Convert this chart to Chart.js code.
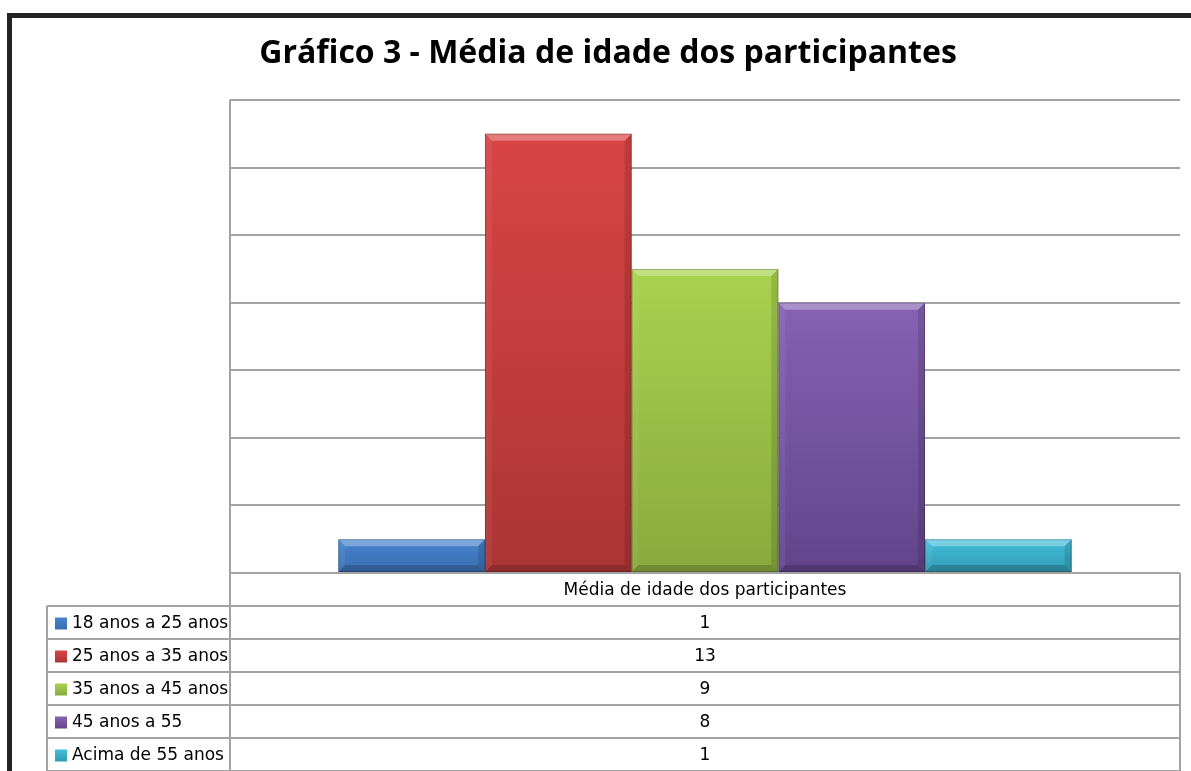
<!DOCTYPE html>
<html>
<head>
<meta charset="utf-8">
<script src="https://cdn.jsdelivr.net/npm/chart.js@4"></script>
<style>
  body { margin: 0; background: #fff; }
  #wrap { width: 1191px; height: 771px; }
</style>
</head>
<body>
<div id="wrap"><canvas id="myChart" width="1191" height="771"></canvas></div>
<script>
// dados do grafico
const titulo = 'Gráfico 3 - Média de idade dos participantes'
const categorias = ['Média de idade dos participantes']
const faixas = ['18 anos a 25 anos', '25 anos a 35 anos', '35 anos a 45 anos', '45 anos a 55', 'Acima de 55 anos']
const valores = [1, 13, 9, 8, 1]
const yMin = 0
const yMax = 14
const yPasso = 2

// cores (topo, base) de cada barra
const coresTopo = ['#4684cf', '#d94444', '#a9d24e', '#8662b3', '#42bfdb']
const coresBase = ['#3a6db0', '#ab3535', '#88a93d', '#62448b', '#3199b2']

const grade = '#a3a3a3'

function gradiente(c) {
    const ch = c.chart
    const i = c.datasetIndex
    if (!ch.chartArea || !ch.scales.y) return coresTopo[i]
    const y = ch.scales.y
    const topo = y.getPixelForValue(c.raw)
    const base = y.getPixelForValue(0)
    const g = ch.ctx.createLinearGradient(0, topo, 0, base)
    g.addColorStop(0, coresTopo[i])
    g.addColorStop(1, coresBase[i])
    return g
}

// efeito de bisel nas barras
const bisel = {
    id: 'bisel',
    afterDatasetsDraw(ch) {
        const ctx = ch.ctx
        ch.data.datasets.forEach((ds, i) => {
            ch.getDatasetMeta(i).data.forEach(el => {
                const p = el.getProps(['x', 'y', 'base', 'width'], true)
                const l = p.x - p.width / 2, r = p.x + p.width / 2
                const t = Math.min(p.y, p.base), b = Math.max(p.y, p.base)
                const s = Math.min(7, (b - t) / 2)
                ctx.save()
                const poly = (pts, cor) => {
                    ctx.beginPath()
                    ctx.moveTo(pts[0][0], pts[0][1])
                    pts.slice(1).forEach(q => ctx.lineTo(q[0], q[1]))
                    ctx.closePath()
                    ctx.fillStyle = cor
                    ctx.fill()
                }
                poly([[l, t], [r, t], [r - s, t + s], [l + s, t + s]], 'rgba(255,255,255,0.3)')
                poly([[l, t], [l + s, t + s], [l + s, b - s], [l, b]], 'rgba(255,255,255,0.06)')
                poly([[r, t], [r, b], [r - s, b - s], [r - s, t + s]], 'rgba(0,0,0,0.12)')
                poly([[l, b], [l + s, b - s], [r - s, b - s], [r, b]], 'rgba(0,0,0,0.18)')
                ctx.strokeStyle = 'rgba(0,0,0,0.22)'
                ctx.lineWidth = 1
                ctx.strokeRect(l + 0.5, t + 0.5, r - l - 1, b - t - 1)
                ctx.restore()
            })
        })
    }
}

// titulo, tabela de dados e moldura
const tabela = {
    id: 'tabela',
    afterDraw(ch) {
        const ctx = ch.ctx
        const a = ch.chartArea
        const linha = 33
        const esq = 47
        const fim = a.bottom + linha * (faixas.length + 1)
        const cx = (a.left + a.right) / 2
        ctx.save()

        // titulo
        ctx.fillStyle = '#000'
        ctx.font = 'bold 32px "Open Sans"'
        ctx.textAlign = 'center'
        ctx.textBaseline = 'middle'
        ctx.fillText(titulo, 608, 54)

        // linhas da tabela
        ctx.strokeStyle = grade
        ctx.lineWidth = 2
        ctx.beginPath()
        ctx.moveTo(a.left, a.top)
        ctx.lineTo(a.left, fim)
        ctx.moveTo(a.right, a.bottom)
        ctx.lineTo(a.right, fim)
        ctx.moveTo(esq, a.bottom + linha)
        ctx.lineTo(esq, fim)
        for (let k = 1; k <= faixas.length + 1; k++) {
            const y = a.bottom + linha * k
            ctx.moveTo(esq, y)
            ctx.lineTo(a.right, y)
        }
        ctx.moveTo(a.left, a.bottom)
        ctx.lineTo(a.right, a.bottom)
        ctx.stroke()

        // textos
        ctx.font = '17px "DejaVu Sans"'
        ctx.fillStyle = '#000'
        ctx.textAlign = 'center'
        ctx.fillText(categorias[0], cx, a.bottom + linha / 2 + 1)
        faixas.forEach((f, i) => {
            const y = a.bottom + linha * (i + 1) + linha / 2 + 1
            ctx.textAlign = 'center'
            ctx.fillStyle = '#000'
            ctx.fillText(String(valores[i]), cx, y)
            ctx.textAlign = 'left'
            ctx.fillText(f, 72, y)
            const g = ctx.createLinearGradient(0, y - 6, 0, y + 6)
            g.addColorStop(0, coresTopo[i])
            g.addColorStop(1, coresBase[i])
            ctx.fillStyle = g
            ctx.fillRect(55, y - 6, 12, 12)
        })

        // moldura preta
        ctx.fillStyle = '#232323'
        ctx.fillRect(7, 13, ch.width - 7, 5)
        ctx.fillRect(7, 13, 5, ch.height - 13)
        ctx.restore()
    }
}

const data = {
    labels: categorias,
    datasets: faixas.map((f, i) => ({
        label: f,
        data: [valores[i]],
        backgroundColor: gradiente,
        borderWidth: 0,
        categoryPercentage: 0.772,
        barPercentage: 1
    }))
}

const config = {
    type: 'bar',
    data: data,
    options: {
        responsive: false,
        animation: false,
        layout: {
            padding: { left: 230, right: 11, top: 100, bottom: 198 }
        },
        plugins: {
            legend: { display: false },
            title: { display: false },
            tooltip: { enabled: false }
        },
        scales: {
            x: { display: false },
            y: {
                min: yMin,
                max: yMax,
                ticks: { display: false, stepSize: yPasso },
                grid: { color: grade, lineWidth: 2, drawTicks: false },
                border: { display: false },
                afterFit: s => { s.width = 0 }
            }
        }
    },
    plugins: [bisel, tabela]
}

const myChart = new Chart(document.getElementById('myChart').getContext('2d'), config)
</script>
</body>
</html>
